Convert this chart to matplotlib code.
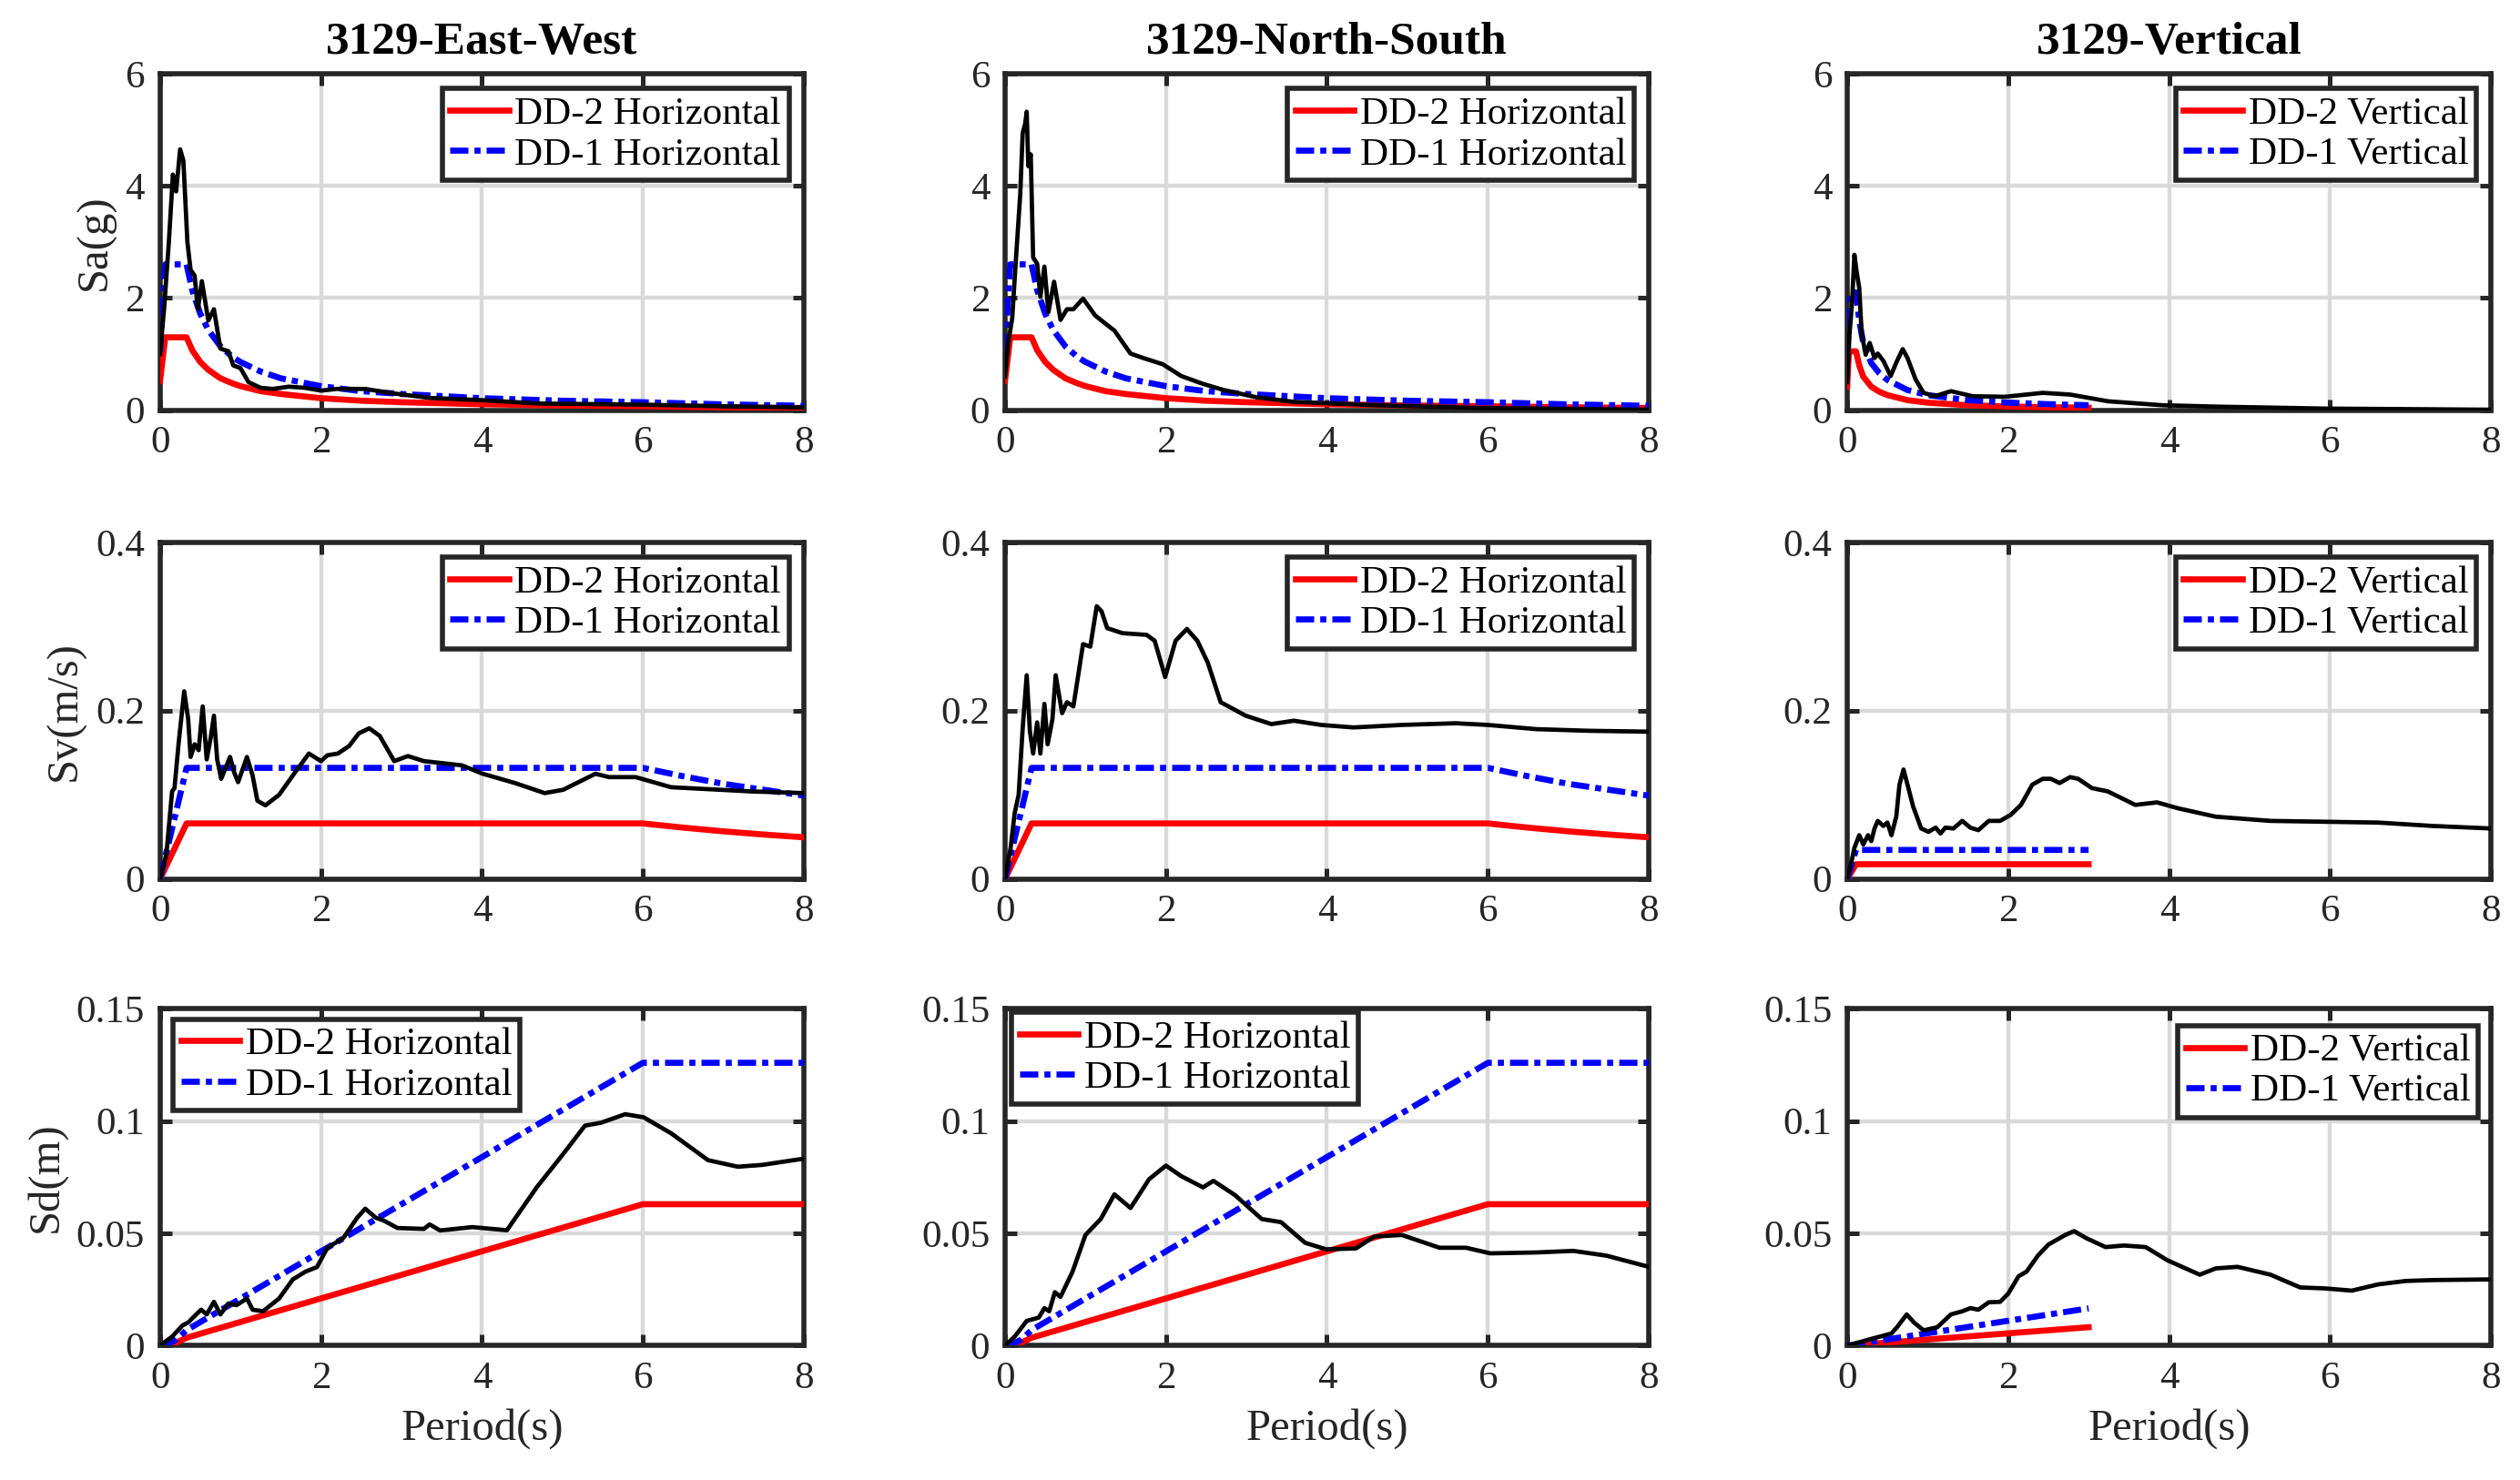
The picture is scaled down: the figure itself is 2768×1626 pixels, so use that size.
import numpy as np
import matplotlib.pyplot as plt

plt.rcParams['font.family'] = ['Liberation Serif', 'DejaVu Serif']

# ---------------- design spectra ----------------
# horizontal Sa
T_sa_h = [0, 0.065, 0.33, 0.4, 0.5, 0.6, 0.75, 0.9, 1.0, 1.25, 1.5, 2.0, 2.5, 3.0, 4.0, 5.0, 6.0, 7.0, 8.0]
sa_dd2_h = [0.52, 1.3, 1.3, 1.07, 0.86, 0.72, 0.57, 0.48, 0.43, 0.34, 0.29, 0.215, 0.17, 0.143, 0.107, 0.086, 0.072, 0.053, 0.040]
sa_dd1_h = [1.04, 2.6, 2.6, 2.14, 1.72, 1.43, 1.14, 0.95, 0.86, 0.69, 0.57, 0.43, 0.34, 0.29, 0.215, 0.17, 0.143, 0.105, 0.080]
# horizontal Sv
T_sv_h = [0, 0.065, 0.33, 6.0, 6.5, 7.0, 7.5, 8.0]
sv_dd2_h = [0, 0.013, 0.066, 0.066, 0.061, 0.0566, 0.0528, 0.0495]
sv_dd1_h = [0, 0.026, 0.132, 0.132, 0.122, 0.113, 0.106, 0.099]
# horizontal Sd
T_sd_h = [0, 0.065, 0.2, 0.33, 6.0, 8.0]
sd_dd2_h = [0, 0.0001, 0.0013, 0.0035, 0.063, 0.063]
sd_dd1_h = [0, 0.0002, 0.0026, 0.0069, 0.126, 0.126]

# vertical Sa (defined up to 3 s)
T_sa_v = [0, 0.022, 0.11, 0.15, 0.2, 0.3, 0.4, 0.5, 0.75, 1.0, 1.5, 2.0, 2.5, 3.0]
sa_dd2_v = [0.42, 1.05, 1.05, 0.8, 0.6, 0.42, 0.33, 0.27, 0.18, 0.135, 0.09, 0.068, 0.054, 0.045]
sa_dd1_v = [0.84, 2.1, 2.1, 1.6, 1.2, 0.84, 0.66, 0.54, 0.36, 0.27, 0.18, 0.136, 0.108, 0.09]
# vertical Sv
T_sv_v = [0, 0.022, 0.11, 3.0]
sv_dd2_v = [0, 0.0034, 0.0175, 0.0175]
sv_dd1_v = [0, 0.0068, 0.0345, 0.0345]
# vertical Sd
T_sd_v = [0, 0.022, 0.11, 3.0]
sd_dd2_v = [0, 0.00001, 0.0003, 0.0082]
sd_dd1_v = [0, 0.00002, 0.0006, 0.0166]

# ---------------- record 3129 spectra ----------------
T_sa_ew = [0, 0.05, 0.11, 0.16, 0.2, 0.25, 0.29, 0.34, 0.38, 0.43, 0.47, 0.52, 0.6, 0.67, 0.75, 0.85,
           0.91, 1.0, 1.1, 1.25, 1.4, 1.6, 1.8, 2.0, 2.2, 2.55, 2.9, 3.35, 4.0, 4.7, 6.0, 7.0, 8.0]
sa_ew = [1.0, 1.8, 3.0, 4.2, 3.9, 4.65, 4.45, 3.0, 2.5, 2.4, 1.8, 2.3, 1.6, 1.8, 1.1, 1.05,
         0.8, 0.75, 0.5, 0.4, 0.38, 0.42, 0.40, 0.35, 0.38, 0.38, 0.3, 0.22, 0.18, 0.12, 0.10, 0.07, 0.05]

T_sv_ew = [0, 0.08, 0.15, 0.18, 0.23, 0.30, 0.35, 0.38, 0.43, 0.48, 0.53, 0.58, 0.63, 0.67, 0.71, 0.76,
           0.87, 0.92, 0.97, 1.08, 1.15, 1.21, 1.31, 1.48, 1.68, 1.85, 2.0, 2.08, 2.21, 2.35, 2.47, 2.6,
           2.73, 2.91, 3.08, 3.28, 3.75, 4.01, 4.41, 4.78, 5.01, 5.41, 5.58, 5.91, 6.35, 7.35, 8.0]
sv_ew = [0, 0.03, 0.104, 0.108, 0.16, 0.223, 0.19, 0.145, 0.16, 0.153, 0.205, 0.142, 0.168, 0.194, 0.142, 0.119,
         0.145, 0.127, 0.115, 0.145, 0.123, 0.093, 0.0875, 0.1, 0.127, 0.149, 0.14, 0.147, 0.149, 0.158, 0.173, 0.179,
         0.17, 0.14, 0.146, 0.14, 0.135, 0.125, 0.114, 0.102, 0.106, 0.125, 0.121, 0.121, 0.109, 0.104, 0.102]

T_sd_ew = [0, 0.15, 0.28, 0.35, 0.41, 0.51, 0.58, 0.67, 0.75, 0.85, 0.95, 1.08, 1.15, 1.28, 1.48, 1.65,
           1.81, 1.95, 2.08, 2.28, 2.45, 2.55, 2.68, 2.78, 2.95, 3.28, 3.35, 3.48, 3.88, 4.31, 4.68, 5.01,
           5.28, 5.48, 5.78, 6.01, 6.35, 6.81, 7.18, 7.48, 8.0]
sd_ew = [0, 0.004, 0.009, 0.0103, 0.0125, 0.016, 0.0139, 0.0195, 0.0139, 0.0188, 0.018, 0.021, 0.016, 0.0153, 0.021, 0.0295,
         0.033, 0.035, 0.0436, 0.048, 0.057, 0.061, 0.057, 0.0557, 0.0524, 0.052, 0.054, 0.0513, 0.0528, 0.0514, 0.0705, 0.0854,
         0.098, 0.0993, 0.1031, 0.1017, 0.0946, 0.0826, 0.0797, 0.0805, 0.0833]

T_sa_ns = [0, 0.04, 0.09, 0.13, 0.19, 0.22, 0.25, 0.27, 0.29, 0.32, 0.35, 0.4, 0.44, 0.49, 0.54, 0.61,
           0.69, 0.77, 0.85, 0.97, 1.12, 1.26, 1.36, 1.56, 1.72, 1.96, 2.19, 2.46, 2.72, 3.13, 3.59, 4.59, 5.93, 8.0]
sa_ns = [0.6, 1.2, 1.64, 2.56, 3.86, 4.94, 5.1, 5.32, 4.35, 4.56, 2.72, 2.61, 2.02, 2.56, 1.75, 2.29,
         1.61, 1.8, 1.8, 1.99, 1.69, 1.53, 1.42, 1.01, 0.93, 0.82, 0.61, 0.47, 0.36, 0.23, 0.15, 0.09, 0.04, 0.01]

T_sv_ns = [0, 0.07, 0.12, 0.17, 0.22, 0.27, 0.31, 0.35, 0.4, 0.44, 0.49, 0.53, 0.59, 0.63, 0.71, 0.77,
           0.85, 0.97, 1.06, 1.14, 1.2, 1.27, 1.46, 1.76, 1.86, 1.99, 2.12, 2.26, 2.39, 2.52, 2.68, 2.99,
           3.31, 3.59, 3.93, 4.33, 4.93, 5.6, 6.0, 6.6, 7.27, 8.0]
sv_ns = [0, 0.037, 0.078, 0.1, 0.179, 0.242, 0.175, 0.149, 0.186, 0.149, 0.208, 0.16, 0.19, 0.242, 0.197, 0.21,
         0.205, 0.279, 0.276, 0.324, 0.318, 0.298, 0.292, 0.29, 0.283, 0.24, 0.283, 0.297, 0.283, 0.257, 0.21, 0.194,
         0.184, 0.188, 0.183, 0.18, 0.183, 0.185, 0.183, 0.178, 0.176, 0.175]

T_sd_ns = [0, 0.12, 0.27, 0.35, 0.42, 0.49, 0.55, 0.62, 0.69, 0.84, 1.0, 1.19, 1.36, 1.56, 1.79, 2.0,
           2.19, 2.46, 2.59, 2.86, 3.19, 3.43, 3.73, 3.99, 4.36, 4.59, 4.93, 5.4, 5.73, 6.03, 6.6, 7.06, 7.47, 8.0]
sd_ns = [0, 0.004, 0.011, 0.0118, 0.0125, 0.0167, 0.0153, 0.0238, 0.0217, 0.033, 0.0493, 0.0564, 0.0674, 0.0613, 0.0741, 0.0802,
         0.0755, 0.0705, 0.0734, 0.067, 0.0564, 0.055, 0.0458, 0.0429, 0.0433, 0.0486, 0.0493, 0.0436, 0.0436, 0.0411, 0.0415, 0.0422, 0.0401, 0.0351]

T_sa_v_rec = [0, 0.03, 0.06, 0.09, 0.12, 0.15, 0.18, 0.23, 0.28, 0.34, 0.38, 0.45, 0.54, 0.62, 0.69, 0.75,
              0.85, 0.95, 1.09, 1.29, 1.56, 1.96, 2.43, 2.77, 3.24, 3.91, 4.58, 5.93, 8.0]
sa_v_rec = [0.5, 1.37, 1.9, 2.77, 2.45, 2.18, 1.37, 0.99, 1.2, 0.93, 1.01, 0.88, 0.61, 0.88, 1.09, 0.93,
            0.55, 0.31, 0.25, 0.34, 0.25, 0.24, 0.31, 0.28, 0.16, 0.09, 0.065, 0.03, 0.01]

T_sv_v_rec = [0, 0.05, 0.09, 0.15, 0.2, 0.26, 0.3, 0.34, 0.38, 0.45, 0.5, 0.55, 0.61, 0.65, 0.7, 0.75,
              0.82, 0.92, 1.01, 1.1, 1.16, 1.22, 1.32, 1.43, 1.53, 1.63, 1.76, 1.9, 2.03, 2.16, 2.3, 2.43,
              2.53, 2.64, 2.77, 2.87, 3.04, 3.24, 3.58, 3.85, 4.11, 4.58, 5.26, 5.93, 6.6, 7.27, 8.0]
sv_v_rec = [0, 0.019, 0.037, 0.052, 0.041, 0.052, 0.045, 0.06, 0.069, 0.063, 0.067, 0.052, 0.074, 0.112, 0.13, 0.112,
            0.086, 0.06, 0.056, 0.061, 0.054, 0.061, 0.06, 0.069, 0.061, 0.058, 0.069, 0.069, 0.076, 0.088, 0.112, 0.119,
            0.119, 0.114, 0.121, 0.119, 0.108, 0.104, 0.088, 0.091, 0.084, 0.074, 0.069, 0.068, 0.067, 0.063, 0.06]

T_sd_v_rec = [0, 0.28, 0.55, 0.62, 0.74, 0.83, 0.95, 1.12, 1.29, 1.43, 1.53, 1.63, 1.76, 1.9, 2.0, 2.13,
              2.23, 2.37, 2.5, 2.71, 2.82, 2.97, 3.21, 3.44, 3.71, 3.98, 4.38, 4.58, 4.85, 5.26, 5.63, 5.93,
              6.27, 6.6, 6.94, 7.27, 8.0]
sd_v_rec = [0, 0.0028, 0.0054, 0.0082, 0.0139, 0.0103, 0.0068, 0.0082, 0.0139, 0.0153, 0.0167, 0.016, 0.0193, 0.0195, 0.0231, 0.0309,
            0.033, 0.0401, 0.045, 0.0493, 0.051, 0.0479, 0.0439, 0.0446, 0.0439, 0.038, 0.0316, 0.0344, 0.0351, 0.0316, 0.0259, 0.0255,
            0.0245, 0.0273, 0.0288, 0.0292, 0.0295]

titles = ['3129-East-West', '3129-North-South', '3129-Vertical']
ylabels = ['Sa(g)', 'Sv(m/s)', 'Sd(m)']
yticks = [[0, 2, 4, 6], [0, 0.2, 0.4], [0, 0.05, 0.1, 0.15]]
ytick_labels = [['0', '2', '4', '6'], ['0', '0.2', '0.4'], ['0', '0.05', '0.1', '0.15']]
xticks = [0, 2, 4, 6, 8]

# panel table: (design T, dd2, dd1, record T, record, component)
panels = [
    [(T_sa_h, sa_dd2_h, sa_dd1_h, T_sa_ew, sa_ew, 'Horizontal'),
     (T_sa_h, sa_dd2_h, sa_dd1_h, T_sa_ns, sa_ns, 'Horizontal'),
     (T_sa_v, sa_dd2_v, sa_dd1_v, T_sa_v_rec, sa_v_rec, 'Vertical')],
    [(T_sv_h, sv_dd2_h, sv_dd1_h, T_sv_ew, sv_ew, 'Horizontal'),
     (T_sv_h, sv_dd2_h, sv_dd1_h, T_sv_ns, sv_ns, 'Horizontal'),
     (T_sv_v, sv_dd2_v, sv_dd1_v, T_sv_v_rec, sv_v_rec, 'Vertical')],
    [(T_sd_h, sd_dd2_h, sd_dd1_h, T_sd_ew, sd_ew, 'Horizontal'),
     (T_sd_h, sd_dd2_h, sd_dd1_h, T_sd_ns, sd_ns, 'Horizontal'),
     (T_sd_v, sd_dd2_v, sd_dd1_v, T_sd_v_rec, sd_v_rec, 'Vertical')],
]

col_left = [0.0635, 0.3988, 0.733]
row_bottom = [0.7228, 0.4061, 0.0908]
ax_w, ax_h = 0.2555, 0.2275
ink = '#262626'
dashdot = (0, (3.0, 1.0, 1.0, 1.0))

fig = plt.figure(figsize=(13.84, 8.13), dpi=200)

for r in range(3):
    for c in range(3):
        ax = fig.add_axes([col_left[c], row_bottom[r], ax_w, ax_h])
        Td, dd2, dd1, Tr, rec, comp = panels[r][c]
        ax.plot(Td, dd2, color='red', lw=2.4, label='DD-2 ' + comp, zorder=3)
        ax.plot(Td, dd1, color='blue', lw=2.4, ls=dashdot, label='DD-1 ' + comp, zorder=3)
        ax.plot(Tr, rec, color='black', lw=1.7, zorder=4)

        ax.set_xlim(0, 8)
        ax.set_ylim(yticks[r][0], yticks[r][-1])
        ax.set_xticks(xticks)
        ax.set_xticklabels([str(x) for x in xticks])
        ax.set_yticks(yticks[r])
        ax.set_yticklabels(ytick_labels[r])
        ax.grid(True, color='#d9d9d9', lw=1.6, zorder=0)
        ax.set_axisbelow(True)
        ax.tick_params(direction='in', length=4.5, width=1.8, top=True, right=True,
                       labelsize=15.5, colors=ink, pad=6)
        for s in ax.spines.values():
            s.set_linewidth(2.0)
            s.set_color(ink)

        if r == 2 and c < 2:
            anchor = (0.02, 0.97) if c == 0 else (0.01, 0.99)
            loc = 'upper left'
        elif r == 2:
            anchor = (0.98, 0.95)
            loc = 'upper right'
        else:
            anchor = (0.977, 0.955)
            loc = 'upper right'
        leg = ax.legend(loc=loc, bbox_to_anchor=anchor, fontsize=15.5, frameon=True,
                        fancybox=False, edgecolor=ink, framealpha=1, borderpad=0.2,
                        labelspacing=0.12, handlelength=1.5, handletextpad=0.15,
                        borderaxespad=0)
        leg.get_frame().set_linewidth(2.0)

        if r == 0:
            ax.set_title(titles[c], fontsize=18.5, fontweight='bold', pad=8)
        if c == 0:
            ax.set_ylabel(ylabels[r], fontsize=17.5, color=ink, labelpad=4)
        if r == 2:
            ax.set_xlabel('Period(s)', fontsize=17.5, color=ink, labelpad=5)

fig.savefig('out.png', dpi=200)
